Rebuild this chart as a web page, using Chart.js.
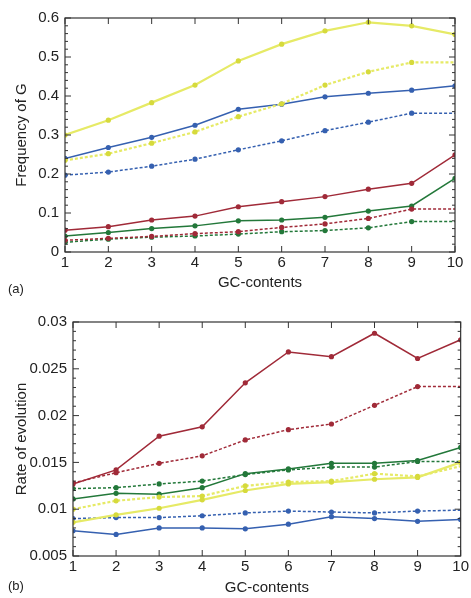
<!DOCTYPE html>
<html>
<head>
<meta charset="utf-8">
<script src="https://cdn.jsdelivr.net/npm/chart.js@4/dist/chart.umd.min.js"></script>
<style>
  html, body { margin: 0; padding: 0; background: #fff; }
  body { width: 471px; height: 598px; position: relative; overflow: hidden; font-family: "Liberation Sans", Arial, sans-serif; }
  .wrap { position: absolute; left: 0; width: 471px; }
  .panel { position: absolute; left: 8px; font-size: 13px; color: #222; }
</style>
</head>
<body>
<div class="wrap" style="top:0;height:298px"><canvas id="chartA"></canvas></div>
<div class="wrap" style="top:298px;height:300px"><canvas id="chartB"></canvas></div>
<div class="panel" style="top:281px">(a)</div>
<div class="panel" style="top:578px">(b)</div>
<script>
// GC-content classes on the x axis
const gcContents = [1, 2, 3, 4, 5, 6, 7, 8, 9, 10];

// (a) frequency of G
const freqYellow      = [0.300, 0.338, 0.383, 0.428, 0.490, 0.533, 0.567, 0.589, 0.580, 0.558];
const freqYellowDash  = [0.235, 0.252, 0.279, 0.308, 0.347, 0.380, 0.428, 0.462, 0.486, 0.486];
const freqBlue        = [0.240, 0.268, 0.294, 0.325, 0.366, 0.379, 0.398, 0.407, 0.415, 0.426];
const freqBlueDash    = [0.197, 0.205, 0.220, 0.238, 0.262, 0.285, 0.311, 0.333, 0.356, 0.356];
const freqRed         = [0.056, 0.065, 0.082, 0.092, 0.116, 0.129, 0.142, 0.161, 0.176, 0.249];
const freqRedDash     = [0.030, 0.035, 0.040, 0.047, 0.052, 0.063, 0.072, 0.086, 0.110, 0.110];
const freqGreen       = [0.041, 0.050, 0.060, 0.067, 0.080, 0.082, 0.089, 0.105, 0.118, 0.189];
const freqGreenDash   = [0.025, 0.033, 0.038, 0.041, 0.046, 0.052, 0.055, 0.062, 0.078, 0.078];
const freqTicks = [0, 0.1, 0.2, 0.3, 0.4, 0.5, 0.6];

// (b) rate of evolution
const rateRed         = [0.0127, 0.0142, 0.0178, 0.0188, 0.0235, 0.0268, 0.0263, 0.0288, 0.0261, 0.0281];
const rateRedDash     = [0.0128, 0.0139, 0.0149, 0.0157, 0.0174, 0.0185, 0.0191, 0.0211, 0.0231, 0.0231];
const rateGreen       = [0.0111, 0.0117, 0.0116, 0.0123, 0.0138, 0.0143, 0.0149, 0.0149, 0.0152, 0.0166];
const rateGreenDash   = [0.0122, 0.0123, 0.0127, 0.0130, 0.0137, 0.0142, 0.0145, 0.0145, 0.0151, 0.0151];
const rateYellow      = [0.0086, 0.0094, 0.0101, 0.0110, 0.0120, 0.0127, 0.0129, 0.0132, 0.0134, 0.0150];
const rateYellowDash  = [0.0100, 0.0109, 0.0113, 0.0114, 0.0125, 0.0129, 0.0130, 0.0138, 0.0135, 0.0146];
const rateBlueDash    = [0.0090, 0.0091, 0.0091, 0.0093, 0.0096, 0.0098, 0.0097, 0.0096, 0.0098, 0.0099];
const rateBlue        = [0.0077, 0.0073, 0.0080, 0.0080, 0.0079, 0.0084, 0.0092, 0.0090, 0.0087, 0.0089];
const rateTicks = [0.005, 0.01, 0.015, 0.02, 0.025, 0.03];

const RED = '#a02a38', GREEN = '#23783a', BLUE = '#3560b0', YELLOW = '#e6ea66';

function series(data, color, dashed, yellow) {
  return {
    data: data,
    borderColor: color,
    backgroundColor: yellow ? '#d6da3c' : color,
    borderWidth: yellow ? 2.2 : 1.5,
    borderDash: dashed ? [3, 2] : [],
    pointRadius: ctx => (dashed && ctx.dataIndex === data.length - 1) ? 0 : 2.6,
    pointBorderWidth: 0,
    tension: 0
  };
}

// frame + inward gnuplot-like ticks
const framePlugin = {
  id: 'frame',
  afterDraw(chart, args, opts) {
    const {ctx, chartArea: a, scales: {x, y}} = chart;
    ctx.save();
    ctx.strokeStyle = '#333';
    ctx.lineWidth = 1.2;
    ctx.strokeRect(a.left, a.top, a.right - a.left, a.bottom - a.top);
    ctx.lineWidth = 1;
    gcContents.forEach(v => {
      const px = x.getPixelForValue(v);
      ctx.beginPath();
      ctx.moveTo(px, a.bottom); ctx.lineTo(px, a.bottom - 6);
      ctx.moveTo(px, a.top); ctx.lineTo(px, a.top + 6);
      ctx.stroke();
    });
    const n = Math.round((y.max - y.min) / opts.minor);
    for (let i = 0; i <= n; i++) {
      const v = y.min + i * opts.minor;
      const py = y.getPixelForValue(v);
      const len = (i % opts.every === 0) ? 6 : 3;
      ctx.beginPath();
      ctx.moveTo(a.left, py); ctx.lineTo(a.left + len, py);
      ctx.moveTo(a.right, py); ctx.lineTo(a.right - len, py);
      ctx.stroke();
    }
    ctx.restore();
  }
};

const font = {family: '"Liberation Sans", Arial, sans-serif', size: 15};

function makeChart(id, sets, yTicks, yTitle, fit, minor, every, fmt) {
  return new Chart(document.getElementById(id), {
    type: 'line',
    data: {labels: gcContents, datasets: sets},
    plugins: [framePlugin],
    options: {
      responsive: true,
      maintainAspectRatio: false,
      animation: false,
      layout: {padding: {left: 0, right: fit.right, top: fit.top, bottom: 0}},
      plugins: {legend: {display: false}, tooltip: {enabled: false}, frame: {minor: minor, every: every}},
      scales: {
        x: {
          type: 'linear', min: 1, max: 10,
          grid: {display: false, drawTicks: false},
          border: {display: false},
          afterBuildTicks: s => { s.ticks = gcContents.map(v => ({value: v})); },
          afterFit: s => { s.height = fit.bottom; },
          ticks: {color: '#222', font: font, padding: 2, maxRotation: 0},
          title: {display: true, text: 'GC-contents', color: '#222', font: font, padding: {top: 0, bottom: fit.titleB}}
        },
        y: {
          min: yTicks[0], max: yTicks[yTicks.length - 1],
          grid: {display: false, drawTicks: false},
          border: {display: false},
          afterBuildTicks: s => { s.ticks = yTicks.map(v => ({value: v})); },
          afterFit: s => { s.width = fit.left; },
          ticks: {color: '#222', font: font, padding: 6, callback: fmt},
          title: {display: true, text: yTitle, color: '#222', font: font, padding: {top: 13, bottom: 0}}
        }
      }
    }
  });
}

makeChart('chartA', [
  series(freqYellow, YELLOW, false, true),
  series(freqYellowDash, YELLOW, true, true),
  series(freqBlue, BLUE, false),
  series(freqBlueDash, BLUE, true),
  series(freqRed, RED, false),
  series(freqRedDash, RED, true),
  series(freqGreen, GREEN, false),
  series(freqGreenDash, GREEN, true)
], freqTicks, 'Frequency of G', {left: 65, right: 16, top: 18, bottom: 46, titleB: 6}, 0.02, 5,
  v => String(+v.toFixed(2)));

makeChart('chartB', [
  series(rateYellow, YELLOW, false, true),
  series(rateYellowDash, YELLOW, true, true),
  series(rateBlue, BLUE, false),
  series(rateBlueDash, BLUE, true),
  series(rateRed, RED, false),
  series(rateRedDash, RED, true),
  series(rateGreen, GREEN, false),
  series(rateGreenDash, GREEN, true)
], rateTicks, 'Rate of evolution', {left: 73, right: 8, top: 24, bottom: 42, titleB: 1}, 0.001, 5,
  v => String(+v.toFixed(3)));
</script>
</body>
</html>
